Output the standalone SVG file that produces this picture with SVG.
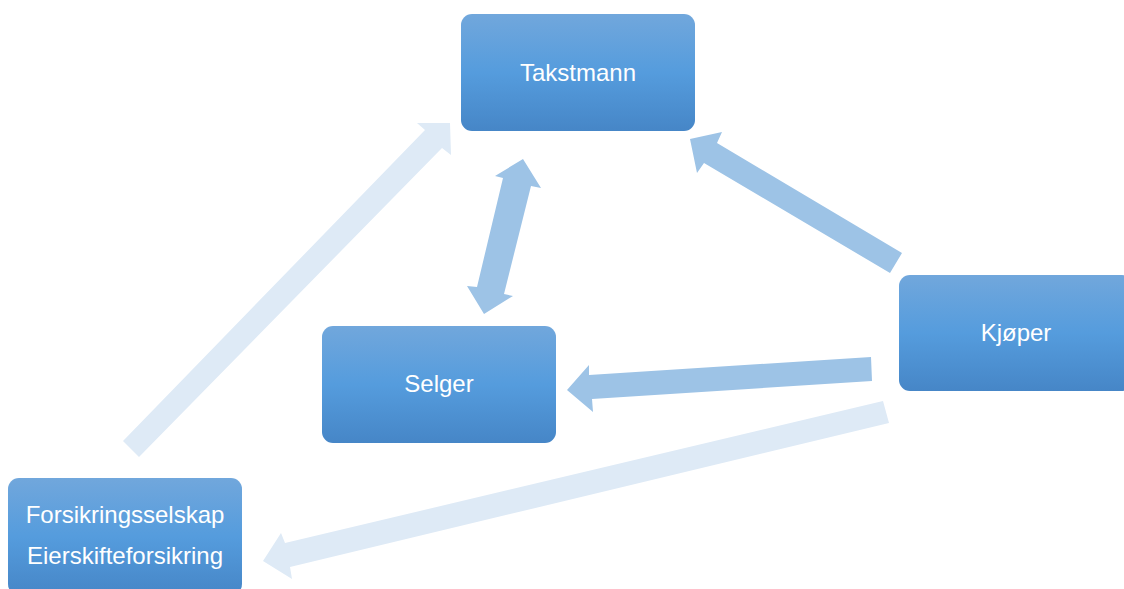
<svg xmlns="http://www.w3.org/2000/svg" width="1124" height="589" viewBox="0 0 1124 589">
<defs>
<linearGradient id="g" x1="0" y1="0" x2="0" y2="1">
<stop offset="0" stop-color="#71a7dc"/>
<stop offset="0.5" stop-color="#559cdd"/>
<stop offset="1" stop-color="#4686c7"/>
</linearGradient>
</defs>
<style>
.box{fill:url(#g)}
.t{font-family:"Liberation Sans",Arial,sans-serif;font-size:24px;fill:#ffffff;text-anchor:middle}
.mid{fill:#9dc3e6}
.lt{fill:#deeaf6}
</style>
<g id="connectors">
<polygon class="lt" points="123,441 425,130 417,123 450,123 451,155 442,148 139,457"/>
<polygon class="lt" points="883,401 285,543 281,533 263,561 292,579 290,567 889,423"/>
<polygon class="mid" points="902,253 717,143 722,132 690,139 697,173 704,163 890,273"/>
<polygon class="mid" points="523,159 541,188 531,186 504,294 513,296 484,314 467,286 477,287 503,178 495,176"/>
<polygon class="mid" points="871,357 589,375 589,365 567,390 593,412 592,399 872,381"/>
</g>
<g id="takstmann">
<rect class="box" x="461" y="14" width="234" height="117" rx="11"/>
<text class="t" x="578" y="81">Takstmann</text>
</g>
<g id="selger">
<rect class="box" x="322" y="326" width="234" height="117" rx="11"/>
<text class="t" x="439" y="392">Selger</text>
</g>
<g id="kjoper">
<rect class="box" x="899" y="275" width="234" height="116" rx="11"/>
<text class="t" x="1016" y="341">Kjøper</text>
</g>
<g id="forsikring">
<rect class="box" x="8" y="478" width="234" height="117" rx="11"/>
<text class="t" x="125" y="523">Forsikringsselskap</text>
<text class="t" x="125" y="564">Eierskifteforsikring</text>
</g>
</svg>
